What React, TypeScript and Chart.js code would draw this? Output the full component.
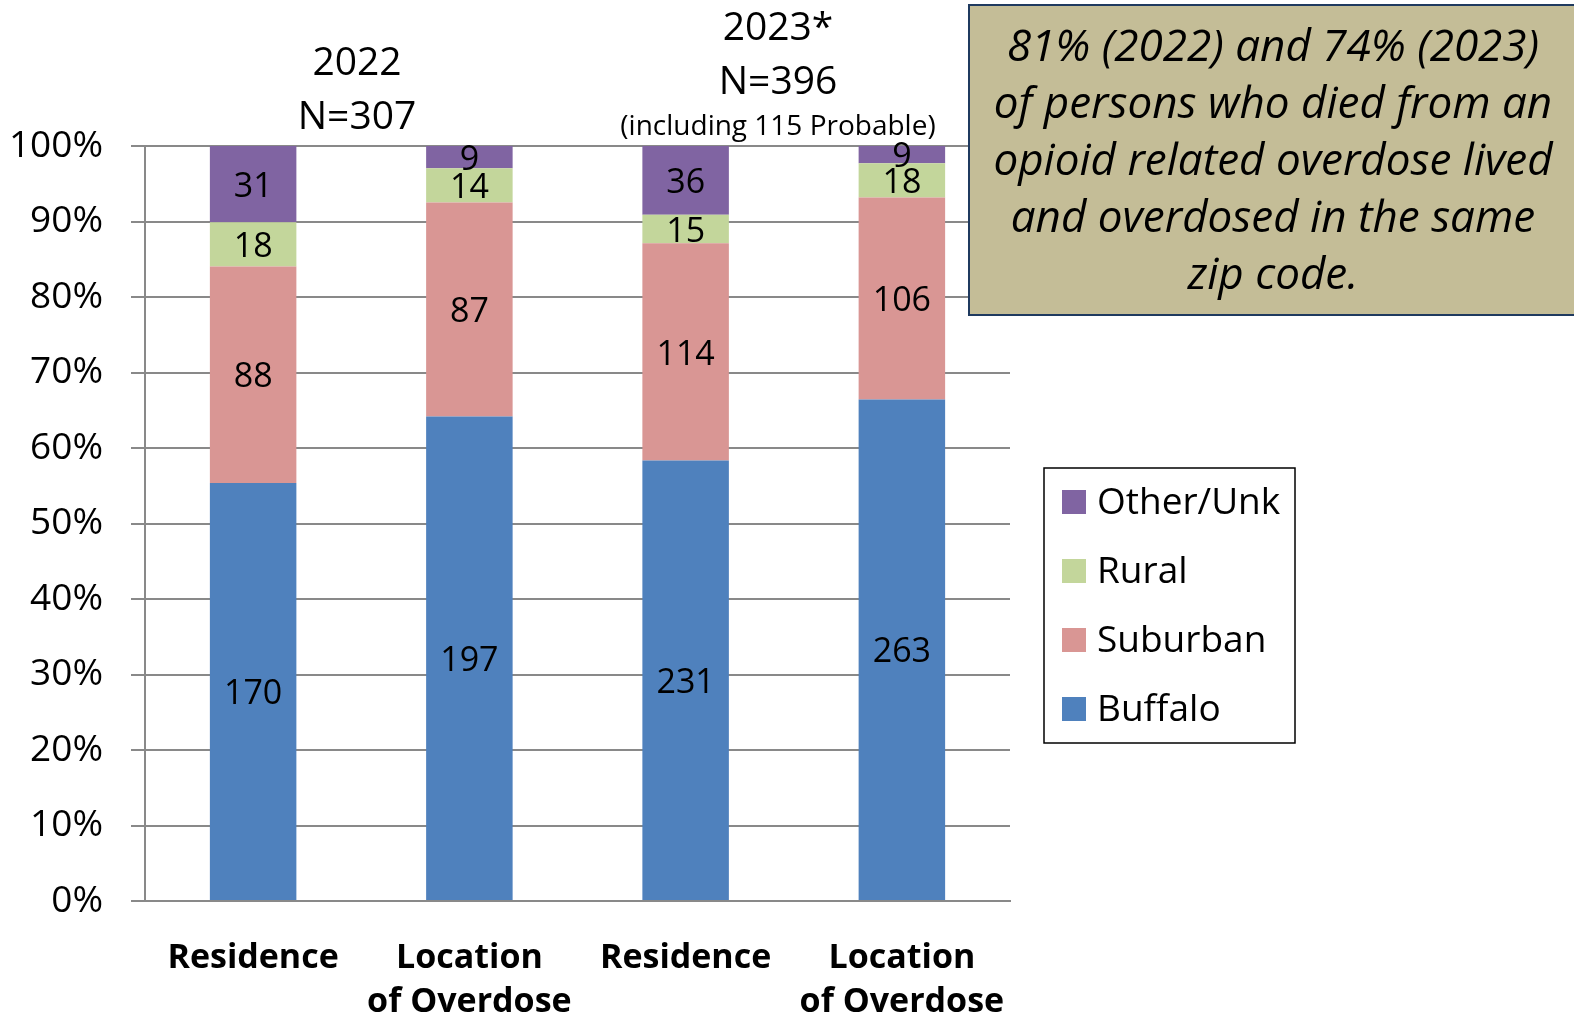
import React, { useEffect, useRef } from 'react';
import { Chart, registerables } from 'chart.js';

Chart.register(...registerables);

// ---- Data ----
const categories: string[][] = [['Residence'], ['Location', 'of Overdose'], ['Residence'], ['Location', 'of Overdose']];
const buffalo = [170, 197, 231, 263];
const suburban = [88, 87, 114, 106];
const rural = [18, 14, 15, 18];
const otherUnk = [31, 9, 36, 9];
const seriesNames = ['Buffalo', 'Suburban', 'Rural', 'Other/Unk'];
const seriesColors = ['#4F81BD', '#D99694', '#C3D69B', '#8064A2'];
const yTickStep = 10;
const yMax = 100;
const title2022 = ['2022', 'N=307'];
const title2023 = ['2023*', 'N=396'];
const title2023Note = '(including 115 Probable)';
const boxLines = [
  '81% (2022) and 74% (2023)',
  'of persons who died from an',
  'opioid related overdose lived',
  'and overdosed in the same',
  'zip code.',
];

const FONT = '"Open Sans", "Noto Sans", sans-serif';

export default function App() {
  const ref = useRef<HTMLCanvasElement | null>(null);

  useEffect(() => {
    const canvas = ref.current;
    if (!canvas) return;
    const counts = [buffalo, suburban, rural, otherUnk];
    const totals = categories.map((_, i) => counts.reduce((s, arr) => s + arr[i], 0));
    const pct = counts.map((arr) => arr.map((v, i) => (v / totals[i]) * 100));

    const overlay = {
      id: 'overlay',
      afterDatasetsDraw(chart: any) {
        const ctx = chart.ctx;
        ctx.save();
        ctx.fillStyle = '#000';
        ctx.font = `34px ${FONT}`;
        ctx.textAlign = 'center';
        ctx.textBaseline = 'middle';
        chart.data.datasets.forEach((ds: any, di: number) => {
          const meta = chart.getDatasetMeta(di);
          meta.data.forEach((bar: any, i: number) => {
            const cy = (bar.y + bar.base) / 2;
            ctx.fillText(String(counts[di][i]), bar.x, cy + 3);
          });
        });
        ctx.restore();
      },
      afterDraw(chart: any) {
        const ctx = chart.ctx;
        ctx.save();
        ctx.fillStyle = '#000';
        ctx.textAlign = 'center';
        ctx.textBaseline = 'middle';
        // group titles
        ctx.font = `39px ${FONT}`;
        ctx.fillText(title2022[0], 357, 64);
        ctx.fillText(title2022[1], 357, 118);
        ctx.fillText(title2023[0], 778, 29);
        ctx.fillText(title2023[1], 778, 83);
        ctx.font = `28px ${FONT}`;
        ctx.fillText(title2023Note, 778, 127);

        // annotation box
        ctx.fillStyle = '#C4BD97';
        ctx.fillRect(969, 5, 630, 310);
        ctx.strokeStyle = '#1F3A5F';
        ctx.lineWidth = 2;
        ctx.strokeRect(969, 5, 630, 310);
        ctx.fillStyle = '#000';
        let size = 40;
        ctx.font = `italic ${size}px ${FONT}`;
        const maxW = Math.max(...boxLines.map((l) => ctx.measureText(l).width));
        size = Math.floor((size * 562) / maxW);
        ctx.font = `italic ${size}px ${FONT}`;
        boxLines.forEach((l, i) => ctx.fillText(l, 1273, 48 + i * 57.2));

        // legend
        ctx.strokeStyle = '#000';
        ctx.lineWidth = 1.5;
        ctx.strokeRect(1044, 468, 251, 275);
        ctx.textAlign = 'left';
        ctx.font = `37px ${FONT}`;
        const order = [3, 2, 1, 0];
        order.forEach((si, k) => {
          const cy = 502 + k * 69;
          ctx.fillStyle = seriesColors[si];
          ctx.fillRect(1062, cy - 12, 24, 24);
          ctx.fillStyle = '#000';
          ctx.fillText(seriesNames[si], 1097, cy + 1);
        });
        ctx.restore();
      },
    };

    const chart = new Chart(canvas, {
      type: 'bar',
      data: {
        labels: categories,
        datasets: seriesNames.map((name, si) => ({
          label: name,
          data: pct[si],
          backgroundColor: seriesColors[si],
          borderWidth: 0,
          barPercentage: 0.8,
          categoryPercentage: 0.5,
        })),
      },
      options: {
        animation: false,
        responsive: false,
        maintainAspectRatio: false,
        layout: { padding: { left: 0, right: 564, top: 146, bottom: 0 } },
        plugins: { legend: { display: false }, tooltip: { enabled: false } },
        scales: {
          x: {
            stacked: true,
            grid: { display: false, drawTicks: false },
            border: { display: true, color: '#898989', width: 2 },
            ticks: {
              color: '#000',
              font: { family: FONT, size: 34, weight: 'bold', lineHeight: 1.3 },
              padding: 35,
              maxRotation: 0,
              autoSkip: false,
            },
            afterFit: (scale: any) => {
              scale.height = 116;
            },
          },
          y: {
            stacked: true,
            min: 0,
            max: yMax,
            ticks: {
              stepSize: yTickStep,
              color: '#000',
              padding: 28,
              font: { family: FONT, size: 37 },
              callback: (v: any) => `${v}%`,
            },
            grid: { color: '#898989', lineWidth: 2, tickLength: 14, drawTicks: true },
            border: { display: true, color: '#898989', width: 2 },
            afterFit: (scale: any) => {
              scale.width = 145;
            },
          },
        },
      },
      plugins: [overlay],
    });
    return () => chart.destroy();
  }, []);

  return (
    <div style={{ position: 'absolute', left: 0, top: 0, width: 1574, height: 1017, background: '#fff' }}>
      <canvas ref={ref} width={1574} height={1017} style={{ width: 1574, height: 1017, display: 'block' }} />
    </div>
  );
}
